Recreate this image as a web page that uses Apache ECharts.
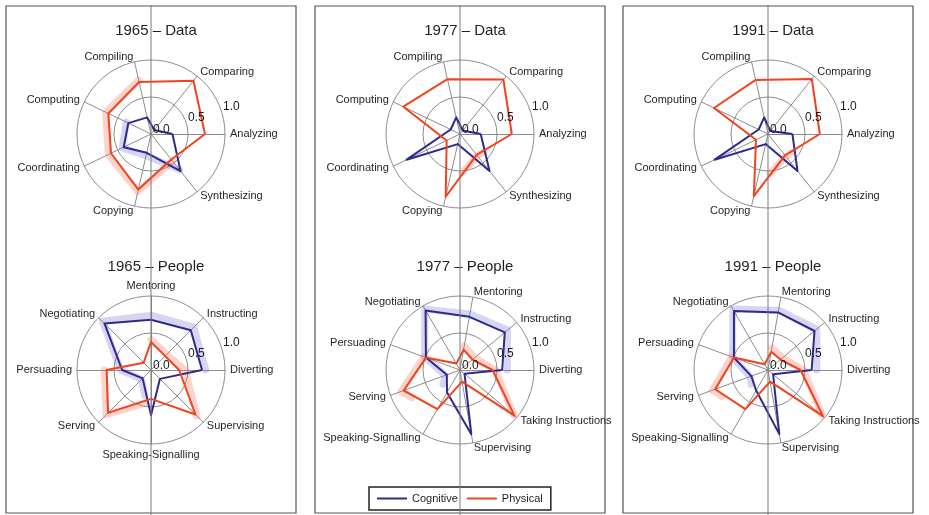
<!DOCTYPE html>
<html>
<head>
<meta charset="utf-8">
<title>Task intensity radar charts</title>
<script src="https://cdn.jsdelivr.net/npm/echarts@6/dist/echarts.min.js"></script>
<style>
  html, body { margin: 0; padding: 0; background: #fff; }
  #main { width: 929px; height: 515px; }
</style>
</head>
<body>
<div id="main"></div>
<script>
// categories
const years = ['1965', '1977', '1991']
const dataTasks = ['Analyzing', 'Comparing', 'Compiling', 'Computing', 'Coordinating', 'Copying', 'Synthesizing']
const peopleTasks1965 = ['Diverting', 'Instructing', 'Mentoring', 'Negotiating', 'Persuading', 'Serving', 'Speaking-Signalling', 'Supervising']
const peopleTasksLater = ['Diverting', 'Instructing', 'Mentoring', 'Negotiating', 'Persuading', 'Serving', 'Speaking-Signalling', 'Supervising', 'Taking Instructions']
const tickValues = [0, 0.5, 1]

// Data tasks (0..1)
const data1965Cognitive = [0.29, 0.07, 0.23, 0.34, 0.41, 0.26, 0.64]
const data1965Physical = [0.73, 0.92, 0.72, 0.64, 0.60, 0.77, 0.44]
const data1977Cognitive = [0.28, 0.06, 0.23, 0.14, 0.80, 0.14, 0.64]
const data1977Physical = [0.70, 0.94, 0.76, 0.85, 0.20, 0.87, 0.36]
const data1991Cognitive = [0.33, 0.05, 0.23, 0.14, 0.80, 0.14, 0.64]
const data1991Physical = [0.70, 0.95, 0.75, 0.81, 0.18, 0.86, 0.37]

// People tasks (0..1)
const people1965Cognitive = [0.69, 0.76, 0.68, 0.89, 0.39, 0.16, 0.61, 0.17]
const people1965Physical = [0.38, 0.27, 0.38, 0.14, 0.60, 0.82, 0.39, 0.85]
const people1977Cognitive = [0.57, 0.79, 0.73, 0.93, 0.49, 0.19, 0.35, 0.88, 0.08]
const people1977Physical = [0.44, 0.22, 0.28, 0.10, 0.49, 0.81, 0.61, 0.16, 0.96]
const people1991Cognitive = [0.59, 0.82, 0.79, 0.92, 0.49, 0.24, 0.32, 0.88, 0.09]
const people1991Physical = [0.44, 0.22, 0.25, 0.09, 0.49, 0.76, 0.61, 0.16, 0.97]

// shaded ranges: [value, axis position] (position in indicator steps)
const band1965DataCognitive = [[0.37, 3], [0.43, 4], [0.30, 5], [0.62, 6]]
const band1965DataPhysical = [[0.75, 2], [0.68, 3], [0.64, 4], [0.80, 5], [0.47, 6]]
const band1977DataPhysical = [[0.53, 5.3], [0.38, 6], [0.40, 6.29]]
const band1991DataPhysical = [[0.53, 5.3], [0.39, 6], [0.41, 6.29]]
const band1965PeopleCognitive = [[0.74, 0], [0.82, 1], [0.74, 2], [0.93, 3], [0.41, 4], [0.18, 5], [0.36, 5.7]]
const band1965PeoplePhysicalA = [[0.41, 2], [0.30, 1], [0.46, 0], [0.88, 7]]
const band1965PeoplePhysicalB = [[0.63, 4], [0.86, 5], [0.45, 5.8]]
const band1977PeopleCognitive = [[0.64, 0], [0.84, 1], [0.77, 2], [0.95, 3], [0.51, 4], [0.21, 5], [0.30, 5.5]]
const band1977PeoplePhysicalA = [[0.33, 2], [0.26, 1], [0.48, 0], [0.95, 8]]
const band1977PeoplePhysicalB = [[0.52, 4], [0.85, 5], [0.75, 5.25]]
const band1991PeopleCognitive = [[0.66, 0], [0.86, 1], [0.82, 2], [0.95, 3], [0.51, 4], [0.26, 5], [0.30, 5.5]]
const band1991PeoplePhysicalA = [[0.30, 2], [0.26, 1], [0.48, 0], [0.96, 8]]
const band1991PeoplePhysicalB = [[0.52, 4], [0.80, 5], [0.72, 5.25]]

const BLUE = '#2d2a8e'
const RED = '#f2421f'
const TEXT = '#231f20'
const GRID = '#8c8c8c'
const FONT = "'Liberation Sans', Arial, sans-serif"

const panelCx = [151, 460, 768]
const dataCy = 134
const peopleCy = 370
const R = 74

// one entry per radar
const charts = [
  { title: years[0] + ' – Data', cx: panelCx[0], cy: dataCy, tasks: dataTasks, cog: data1965Cognitive, phy: data1965Physical, cogBands: [band1965DataCognitive], phyBands: [band1965DataPhysical] },
  { title: years[0] + ' – People', cx: panelCx[0], cy: peopleCy, tasks: peopleTasks1965, cog: people1965Cognitive, phy: people1965Physical, cogBands: [band1965PeopleCognitive], phyBands: [band1965PeoplePhysicalA, band1965PeoplePhysicalB] },
  { title: years[1] + ' – Data', cx: panelCx[1], cy: dataCy, tasks: dataTasks, cog: data1977Cognitive, phy: data1977Physical, cogBands: [], phyBands: [band1977DataPhysical] },
  { title: years[1] + ' – People', cx: panelCx[1], cy: peopleCy, tasks: peopleTasksLater, cog: people1977Cognitive, phy: people1977Physical, cogBands: [band1977PeopleCognitive], phyBands: [band1977PeoplePhysicalA, band1977PeoplePhysicalB] },
  { title: years[2] + ' – Data', cx: panelCx[2], cy: dataCy, tasks: dataTasks, cog: data1991Cognitive, phy: data1991Physical, cogBands: [], phyBands: [band1991DataPhysical] },
  { title: years[2] + ' – People', cx: panelCx[2], cy: peopleCy, tasks: peopleTasksLater, cog: people1991Cognitive, phy: people1991Physical, cogBands: [band1991PeopleCognitive], phyBands: [band1991PeoplePhysicalA, band1991PeoplePhysicalB] },
]

const chart = echarts.init(document.getElementById('main'))

const title = []
const radar = []
const polar = []
const angleAxis = []
const radiusAxis = []
const series = []

charts.forEach((c, k) => {
  const step = 360 / c.tasks.length
  title.push({
    text: c.title,
    left: c.cx,
    top: c.cy - 116,
    textAlign: 'center',
    textStyle: { fontFamily: FONT, fontSize: 15, fontWeight: 'normal', color: TEXT },
  })
  radar.push({
    center: [c.cx, c.cy],
    radius: R,
    startAngle: 0,
    shape: 'circle',
    splitNumber: 2,
    indicator: c.tasks.map(name => ({ name: name, min: 0, max: 1 })),
    nameGap: 5,
    axisName: { color: TEXT, fontFamily: FONT, fontSize: 11 },
    axisLine: { lineStyle: { color: GRID, width: 1 } },
    splitLine: { lineStyle: { color: GRID, width: 1 } },
    splitArea: { show: false },
  })
  polar.push({ center: [c.cx, c.cy], radius: R })
  angleAxis.push({ polarIndex: k, type: 'value', min: 0, max: 360, startAngle: 0, clockwise: false, show: false })
  radiusAxis.push({ polarIndex: k, type: 'value', min: 0, max: 1, show: false })

  // shaded bands under the lines
  c.cogBands.concat(c.phyBands).forEach((band, b) => {
    const isCog = b < c.cogBands.length
    series.push({
      type: 'line',
      coordinateSystem: 'polar',
      polarIndex: k,
      symbol: 'none',
      clip: false,
      silent: true,
      z: 1,
      lineStyle: { color: isCog ? 'rgba(110, 105, 200, 0.28)' : 'rgba(245, 110, 90, 0.3)', width: 7, join: 'round', cap: 'round' },
      data: band.map(p => [p[0], p[1] * step]),
    })
  })

  // tick labels 0.0 / 0.5 / 1.0
  series.push({
    type: 'scatter',
    coordinateSystem: 'polar',
    polarIndex: k,
    symbolSize: 0,
    silent: true,
    z: 5,
    itemStyle: { opacity: 1 },
    data: tickValues.map(v => [v, 18.7]),
    label: {
      show: true,
      position: 'right',
      distance: 0,
      offset: [2, -4],
      formatter: p => p.value[0].toFixed(1),
      fontFamily: FONT,
      fontSize: 12,
      color: '#1a1a1a',
      opacity: 1,
      textBorderWidth: 0,
    },
  })

  series.push({
    name: 'Cognitive',
    type: 'radar',
    radarIndex: k,
    symbol: 'none',
    z: 3,
    lineStyle: { color: BLUE, width: 2 },
    itemStyle: { color: BLUE },
    data: [{ name: 'Cognitive', value: c.cog }],
  })
  series.push({
    name: 'Physical',
    type: 'radar',
    radarIndex: k,
    symbol: 'none',
    z: 3,
    lineStyle: { color: RED, width: 2 },
    itemStyle: { color: RED },
    data: [{ name: 'Physical', value: c.phy }],
  })
})

// panel frames and the centre lines
const graphic = []
panelCx.forEach(cx => {
  graphic.push({
    type: 'rect',
    shape: { x: cx - 145, y: 6, width: 290, height: 507 },
    style: { fill: 'none', stroke: '#555', lineWidth: 1.2 },
    z: 0,
  })
  graphic.push({
    type: 'line',
    shape: { x1: cx, y1: 5, x2: cx, y2: 515 },
    style: { stroke: '#7a7a7a', lineWidth: 1 },
    z: 100,
  })
})

chart.setOption({
  animation: false,
  title: title,
  radar: radar,
  polar: polar,
  angleAxis: angleAxis,
  radiusAxis: radiusAxis,
  legend: {
    data: ['Cognitive', 'Physical'],
    left: 369,
    top: 487,
    padding: [6, 8],
    itemGap: 9,
    itemWidth: 30,
    itemHeight: 2,
    icon: 'rect',
    borderColor: '#222',
    borderWidth: 1.5,
    textStyle: { fontFamily: FONT, fontSize: 11, color: TEXT },
  },
  graphic: graphic,
  series: series,
})
</script>
</body>
</html>
